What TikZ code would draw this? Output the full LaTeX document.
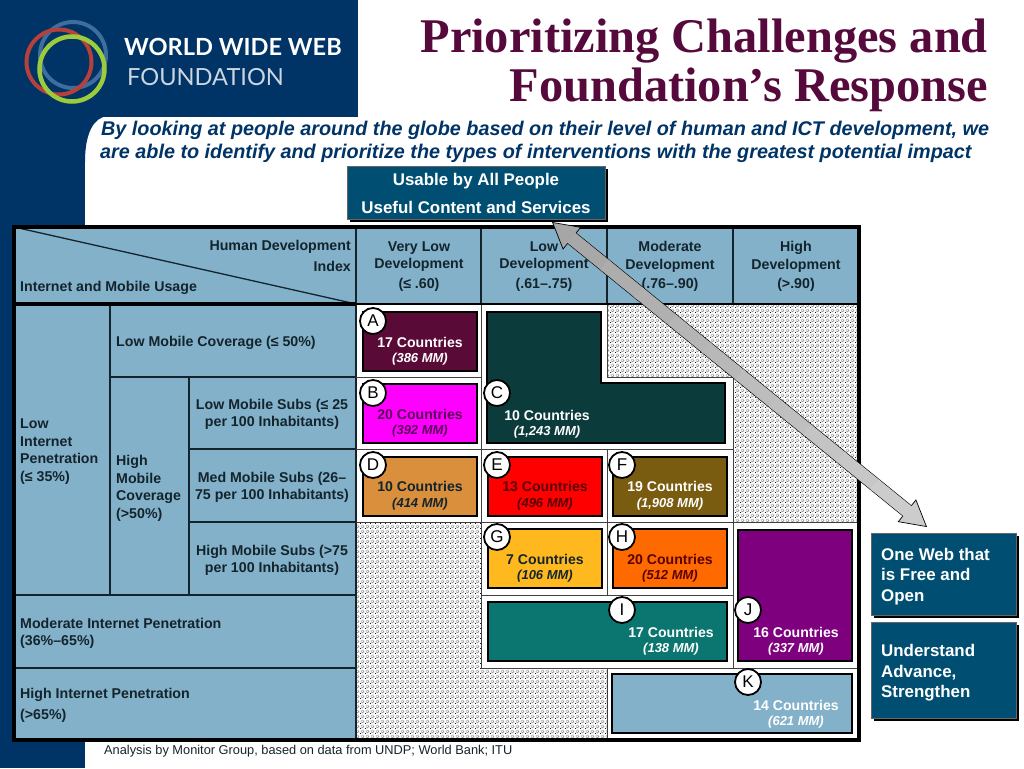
\documentclass[tikz,border=0pt]{standalone}
\usepackage{fontspec}
\setmainfont{Liberation Sans}
\newfontfamily\titlefont{Liberation Serif}
\newfontfamily\logofont{Lato}
\usetikzlibrary{patterns,arrows.meta,calc}
\definecolor{navy}{HTML}{003366}
\definecolor{tablecol}{HTML}{82B1C9}
\definecolor{tealbox}{HTML}{004F73}
\definecolor{titlecol}{HTML}{560A3C}
\definecolor{inktext}{HTML}{14242C}
\definecolor{logoblue}{HTML}{3F6E9E}
\definecolor{logored}{HTML}{B5413A}
\definecolor{logogreen}{HTML}{9CCB3B}
\pgfdeclarepatternformonly{stipple}{\pgfqpoint{0pt}{0pt}}{\pgfqpoint{5pt}{5pt}}{\pgfqpoint{5pt}{5pt}}{
  \pgfpathrectangle{\pgfqpoint{0pt}{0pt}}{\pgfqpoint{1pt}{1pt}}
  \pgfpathrectangle{\pgfqpoint{2pt}{1pt}}{\pgfqpoint{1pt}{1pt}}
  \pgfpathrectangle{\pgfqpoint{4pt}{2pt}}{\pgfqpoint{1pt}{1pt}}
  \pgfpathrectangle{\pgfqpoint{1pt}{3pt}}{\pgfqpoint{1pt}{1pt}}
  \pgfpathrectangle{\pgfqpoint{3pt}{4pt}}{\pgfqpoint{1pt}{1pt}}
  \pgfusepath{fill}
}
\tikzset{
  tbltext/.style={font=\bfseries\fontsize{14.2}{17.5}\selectfont,text=inktext,inner sep=0pt},
  grid/.style={draw=inktext,line width=1.3pt},
  thinline/.style={draw=black!75,line width=1pt},
  hatch/.style={pattern=stipple,pattern color=black!90},
  count/.style={draw=black,line width=1.5pt},
  counttext/.style={align=center,inner sep=0pt,font=\bfseries\fontsize{14.1}{15.5}\selectfont},
  letter/.style={circle,draw=black,fill=white,line width=1.8pt,minimum size=26pt,inner sep=0pt,font=\fontsize{17}{17}\selectfont},
  actionbox/.style={draw=black!60,fill=tealbox,line width=.5pt},
  actionshadow/.style={fill=black},
  actiontext/.style={text=white,inner sep=0pt,font=\bfseries\fontsize{16.9}{20.5}\selectfont}
}
\newcommand{\mm}[1]{\textit{\fontsize{13}{13}\selectfont (#1 MM)}}
\begin{document}
\begin{tikzpicture}[x=1pt,y=-1pt]
\useasboundingbox (0,0) rectangle (1024,768);
% navy page corner
\fill[navy] (0,0) rectangle (358,117);
\fill[navy] (0,0) rectangle (85,768);
\fill[navy] (85,117) -- (103,117) .. controls (90,122) and (85,140) .. (85,162) -- cycle;
% logo
\draw[line width=4pt,color=logoblue] (73,55) circle (33);
\draw[line width=4pt,color=logored] (59,62) circle (32.5);
\draw[line width=4.5pt,color=logogreen] (72,69) circle (32.5);
\node[anchor=west,inner sep=0pt,text=white,font=\logofont\bfseries\fontsize{23.6}{24}\selectfont] (logoa) at (124,47) {WORLD WIDE WEB};
\node[anchor=west,inner sep=0pt,text=white!80!navy,font=\logofont\fontsize{23.6}{24}\selectfont] (logob) at (127,77) {FOUNDATION};
% title
\node[anchor=east,inner sep=0pt,text=titlecol,font=\titlefont\bfseries\fontsize{48.4}{49}\selectfont] (titlea) at (988,41) {Prioritizing Challenges and};
\node[anchor=east,inner sep=0pt,text=titlecol,font=\titlefont\bfseries\fontsize{48.4}{49}\selectfont] (titleb) at (988,90) {Foundation’s Response};
\node[anchor=west,inner sep=0pt,text=navy,font=\bfseries\itshape\fontsize{19.8}{20}\selectfont] (introa) at (101,130) {By looking at people around the globe based on their level of human and ICT development, we};
\node[anchor=west,inner sep=0pt,text=navy,font=\bfseries\itshape\fontsize{19.8}{20}\selectfont] (introb) at (100,153) {are able to identify and prioritize the types of interventions with the greatest potential impact};
% table body
\fill[tablecol] (14,227) rectangle (859,740);
\fill[white] (356,304) rectangle (859,740);
\fill[hatch] (607,304) rectangle (733,377);
\fill[hatch] (733,304) rectangle (859,522);
\fill[hatch] (356,522) rectangle (481,740);
\fill[hatch] (481,668) rectangle (607,740);
\draw[grid] (14,227) -- (356,304);
\draw[grid] (356,227) -- (356,740);
\draw[grid] (481,227) -- (481,304);
\draw[grid] (607,227) -- (607,304);
\draw[grid] (733,227) -- (733,304);
\draw[grid] (110,304) -- (110,595);
\draw[grid] (189,377) -- (189,595);
\draw[grid] (110,377) -- (356,377);
\draw[grid] (189,449) -- (356,449);
\draw[grid] (189,522) -- (356,522);
\draw[grid] (14,595) -- (356,595);
\draw[grid] (14,668) -- (356,668);
\draw[thinline] (356,377) -- (481,377);
\draw[thinline] (356,449) -- (733,449);
\draw[thinline] (356,522) -- (859,522);
\draw[thinline] (481,304) -- (481,668);
\draw[thinline] (607,449) -- (607,595);
\draw[thinline] (733,449) -- (733,668);
\draw[thinline] (481,595) -- (733,595);
\draw[thinline] (481,668) -- (859,668);
\draw[thinline] (607,668) -- (607,740);
\draw[thinline] (607,304) -- (607,377) -- (733,377) -- (733,449);
\draw[black,line width=3.5pt] (14,304) -- (356,304);
\draw[black,line width=1.5pt] (356,304) -- (859,304);
\draw[black,line width=4pt] (14,227) rectangle (859,740);
% table headings
\node[tbltext,anchor=east] (hdi) at (351,246.5) {Human Development};
\node[tbltext,anchor=east] (index) at (351,266.5) {Index};
\node[tbltext,anchor=west] (usage) at (20,287.5) {Internet and Mobile Usage};
\node[tbltext,align=center] (colvl) at (419,266.5) {Very Low\\Development\\[2pt](≤ .60)};
\node[tbltext,align=center] (coll) at (544,266.5) {Low\\Development\\[2pt](.61–.75)};
\node[tbltext,align=center] (colm) at (670,266.5) {Moderate\\Development\\[2pt](.76–.90)};
\node[tbltext,align=center] (colh) at (796,266.5) {High\\Development\\[2pt](>.90)};
\node[tbltext,align=left,anchor=west] (lowpen) at (20,451.5) {Low\\Internet\\Penetration\\(≤ 35\%)};
\node[tbltext,anchor=west] (lowcov) at (116,342.5) {Low Mobile Coverage (≤ 50\%)};
\node[tbltext,align=left,anchor=west] (highcov) at (116,488.5) {High\\Mobile\\Coverage\\(>50\%)};
\node[tbltext,align=center] (lowsubs) at (272,414.5) {Low Mobile Subs (≤ 25\\per 100 Inhabitants)};
\node[tbltext,align=center] (medsubs) at (272,487.5) {Med Mobile Subs (26–\\75 per 100 Inhabitants)};
\node[tbltext,align=center] (highsubs) at (272,560.5) {High Mobile Subs (>75\\per 100 Inhabitants)};
\node[tbltext,align=left,anchor=west] (modpen) at (20,633.5) {Moderate Internet Penetration\\(36\%–65\%)};
\node[tbltext,align=left,anchor=west] (highpen) at (20,705.5) {High Internet Penetration\\[3pt](>65\%)};
% country groups
\draw[count,fill={rgb,255:red,90;green,10;blue,54}] (363,312) rectangle (477,371);
\draw[count,fill={rgb,255:red,255;green,0;blue,255}] (363,384) rectangle (477,443);
\draw[count,fill={rgb,255:red,11;green,59;blue,59}] (487,312) -- (601,312) -- (601,383) -- (725,383) -- (725,443) -- (487,443) -- cycle;
\draw[count,fill={rgb,255:red,217;green,143;blue,60}] (363,457) rectangle (477,516);
\draw[count,fill=red] (488,457) rectangle (602,516);
\draw[count,fill={rgb,255:red,122;green,92;blue,16}] (613,457) rectangle (727,516);
\draw[count,fill={rgb,255:red,255;green,185;blue,30}] (488,529) rectangle (602,588);
\draw[count,fill={rgb,255:red,255;green,106;blue,0}] (613,529) rectangle (727,588);
\draw[count,fill={rgb,255:red,11;green,117;blue,111}] (488,602) rectangle (727,661);
\draw[count,fill={rgb,255:red,127;green,0;blue,127}] (738,530) rectangle (852,661);
\draw[count,fill=tablecol] (612,674) rectangle (852,733);
\node[counttext,text=white] (counta) at (420,351) {17 Countries\\\mm{386}};
\node[counttext,text={rgb,255:red,90;green,0;blue,90}] (countb) at (420,423) {20 Countries\\\mm{392}};
\node[counttext,text=white] (countc) at (547,424) {10 Countries\\\mm{1,243}};
\node[counttext,text=inktext] (countd) at (420,495.5) {10 Countries\\\mm{414}};
\node[counttext,text={rgb,255:red,90;green,0;blue,0}] (counte) at (545,495.5) {13 Countries\\\mm{496}};
\node[counttext,text=white] (countf) at (670,495.5) {19 Countries\\\mm{1,908}};
\node[counttext,text=inktext] (countg) at (545,568) {7 Countries\\\mm{106}};
\node[counttext,text={rgb,255:red,90;green,0;blue,0}] (counth) at (670,568) {20 Countries\\\mm{512}};
\node[counttext,text=white] (counti) at (671,641) {17 Countries\\\mm{138}};
\node[counttext,text=white] (countj) at (796,641) {16 Countries\\\mm{337}};
\node[counttext,text=white] (countk) at (796,714) {14 Countries\\\mm{621}};
\foreach \lab/\x/\y in {A/373/321,B/373/393,C/497/393,D/373/465,E/497/465,F/622/465,G/497/537,H/622/537,I/622/610,J/748/610,K/748/682}
  \node[letter] (mark\lab) at (\x,\y) {\lab};
% side boxes
\fill[actionshadow] (350,169) rectangle (608,222);
\draw[actionbox] (347,166) rectangle (605,219);
\node[actiontext] (usable) at (476,181) {Usable by All People};
\node[actiontext] (useful) at (476,207.5) {Useful Content and Services};
\fill[actionshadow] (874,536) rectangle (1019,618);
\draw[actionbox] (871,533) rectangle (1016,615);
\node[actiontext,align=left,anchor=west] (oneweb) at (881,576.5) {One Web that\\is Free and\\Open};
\fill[actionshadow] (874,625) rectangle (1019,721);
\draw[actionbox] (871,622) rectangle (1016,718);
\node[actiontext,align=left,anchor=west] (understand) at (881,673) {Understand\\Advance,\\Strengthen};
% connecting arrow
\coordinate (tiptop) at (552,222);
\coordinate (tipbottom) at (927,527);
\draw[black,line width=14pt,{Triangle[length=26pt,width=29pt,fill=black!35,line width=.7pt]}-{Triangle[length=26pt,width=29pt,fill=black!20,line width=.7pt]}] (tiptop) -- (tipbottom);
\foreach \t in {0,...,9}
  \draw[black!\the\numexpr34-\t*3/2\relax,line width=12.8pt] ($(tiptop)!{0.05+\t*0.09}!(tipbottom)$) -- ($(tiptop)!{0.15+\t*0.09-0.005}!(tipbottom)$);
% source
\node[anchor=west,inner sep=0pt,text=inktext,font=\fontsize{12.8}{13}\selectfont] (source) at (104,751.5) {Analysis by Monitor Group, based on data from UNDP; World Bank; ITU};
\end{tikzpicture}
\end{document}
